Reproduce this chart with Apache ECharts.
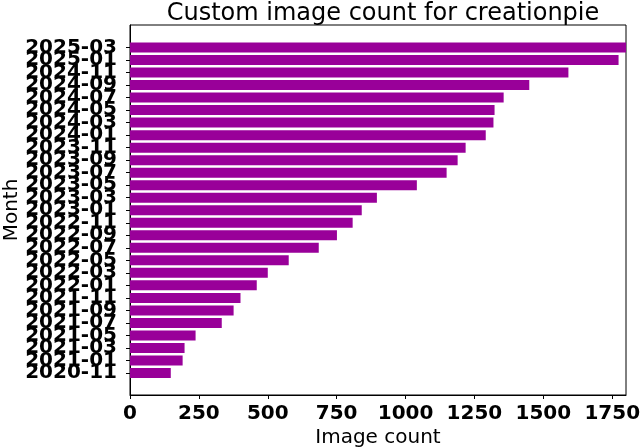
<!DOCTYPE html>
<html lang="en">
<head>
    <meta charset="UTF-8">
    <title>Custom image count for creationpie</title>
    <script src="https://cdn.jsdelivr.net/npm/echarts@6/dist/echarts.min.js"></script>
</head>
<body style="margin:0">
    <div id="main" style="width: 640px;height:448px;"></div>
    <script type="text/javascript">
        // months, oldest first (bottom of the chart)
        var months = ['2020-11', '2021-01', '2021-03', '2021-05', '2021-07', '2021-09', '2021-11',
            '2022-01', '2022-03', '2022-05', '2022-07', '2022-09', '2022-11',
            '2023-01', '2023-03', '2023-05', '2023-07', '2023-09', '2023-11',
            '2024-01', '2024-03', '2024-05', '2024-07', '2024-09', '2024-11',
            '2025-01', '2025-03']
        var counts = [148, 191, 198, 238, 333, 376, 401,
            460, 500, 576, 685, 751, 808,
            841, 896, 1041, 1149, 1189, 1218,
            1291, 1319, 1323, 1356, 1449, 1591,
            1773, 1800]
        var xTicks = [0, 250, 500, 750, 1000, 1250, 1500, 1750]

        var font = 'DejaVu Sans'
        var black = { color: '#000' }

        var myChart = echarts.init(document.getElementById('main'))
        // grid 0 = the frame with the x axis, grid 1 = the bars (inset like matplotlib margins)
        var option = {
            animation: false,
            title: {
                text: 'Custom image count for creationpie',
                left: 378, top: -3,
                textAlign: 'center',
                textStyle: { fontFamily: font, fontSize: 24, fontWeight: 'normal', color: '#000' }
            },
            grid: [
                { left: 130, right: 14, top: 25, bottom: 53, outerBoundsMode: 'none',
                  show: true, borderColor: '#000', borderWidth: 1 },
                { left: 130, right: 14, top: 41.24, bottom: 68.74, outerBoundsMode: 'none' }
            ],
            xAxis: [{
                gridIndex: 0, type: 'value', min: 0, max: 1800,
                name: 'Image count', nameLocation: 'middle', nameGap: 33, nameMoveOverlap: false,
                nameTextStyle: { fontFamily: font, fontSize: 20, color: '#000' },
                axisLine: { show: true, lineStyle: black },
                axisTick: { show: true, length: 4, customValues: xTicks, lineStyle: black },
                axisLabel: {
                    customValues: xTicks, margin: 9,
                    formatter: v => String(v),
                    fontFamily: font, fontSize: 20, fontWeight: 'bold', color: '#000'
                },
                splitLine: { show: false }
            }, {
                gridIndex: 1, type: 'value', min: 0, max: 1800, show: false
            }],
            yAxis: [{
                gridIndex: 0, type: 'value', min: 0, max: 1,
                name: 'Month', nameLocation: 'middle', nameGap: 108, nameRotate: 90, nameMoveOverlap: false,
                nameTextStyle: { fontFamily: font, fontSize: 20, color: '#000' },
                axisLine: { show: true, lineStyle: black },
                axisTick: { show: false },
                axisLabel: { show: false },
                splitLine: { show: false }
            }, {
                gridIndex: 1, type: 'category', data: months,
                axisLine: { show: false },
                axisTick: { show: true, length: 4, alignWithLabel: true, lineStyle: black },
                axisLabel: {
                    interval: 0, margin: 13,
                    fontFamily: font, fontSize: 20, fontWeight: 'bold', color: '#000'
                },
                splitLine: { show: false }
            }],
            series: [{
                type: 'bar',
                xAxisIndex: 1, yAxisIndex: 1,
                barWidth: '80%',
                itemStyle: { color: '#990099' },
                data: counts
            }]
        }
        myChart.setOption(option)
    </script>
</body>
</html>
